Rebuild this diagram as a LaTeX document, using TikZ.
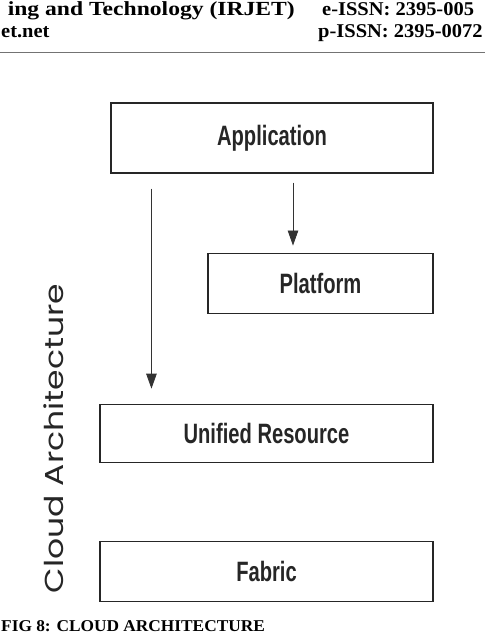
\documentclass[tikz,border=0pt]{standalone}
\usepackage{fontspec}
\setmainfont{Liberation Serif}
\newfontfamily\headfont[FakeStretch=1.05]{Liberation Serif}
\newfontfamily\jrnfont[FakeStretch=1.18]{Liberation Serif}
\newfontfamily\boxfont[FakeStretch=0.72]{Liberation Sans}
\newfontfamily\sidefont[FakeStretch=1.27]{Poppins}
\usetikzlibrary{arrows.meta,positioning}

\begin{document}
\begin{tikzpicture}[x=1pt, y=1pt, font=\boxfont\bfseries\fontsize{28}{32}\selectfont,
  box/.style={draw=black!85, line width=1.1pt, minimum height=#1, inner sep=0pt, text=black!85}, box/.default=60pt,
  arr/.style={-{Triangle[length=15pt,width=10.5pt]}, black!80, line width=0.8pt},
  head/.style={font=\headfont\bfseries\fontsize{19.5}{24}\selectfont, inner sep=0pt}]
\clip (0,0) rectangle (485,-635);
\useasboundingbox (0,0) rectangle (485,-635);
% page header
\node[head, font=\jrnfont\bfseries\fontsize{20}{24}\selectfont, anchor=base east] (jrn) at (295,-15) {ing and Technology (IRJET)};
\node[head, anchor=base west] (eissn) at (322,-15) {e-ISSN: 2395-005};
\node[head, anchor=base west] (web) at (1,-37) {et.net};
\node[head, anchor=base west] (pissn) at (318,-37) {p-ISSN: 2395-0072};
\draw[black!55, line width=1pt] (0,-52) -- (485,-52);
% layers
\node[box=70pt, minimum width=322pt] (app) at (272,-138) {Application};
\node[box, minimum width=225pt, below=79pt of app.south east, anchor=north east] (plat) {Platform};
\node[box=58pt, minimum width=333pt, below=90pt of plat.south east, anchor=north east] (res) {Unified Resource};
\node[box, minimum width=333pt, below=78pt of res] (fab) {Fabric};
\node[rotate=90, inner sep=0pt, text=black!85, font=\sidefont\fontsize{26}{30}\selectfont] (side) at (54,-438.5) {Cloud Architecture};
\draw[arr, shorten <=9pt, shorten >=7pt] ([xshift=21pt]app.south) -- ([xshift=-27.5pt]plat.north);
\draw[arr, shorten <=15pt, shorten >=15pt] ([xshift=41pt]app.south west) -- ([xshift=52pt]res.north west);
% caption
\node[head, font=\headfont\bfseries\fontsize{16.5}{19}\selectfont, anchor=base west] (cap) at (1,-631) {FIG 8: CLOUD ARCHITECTURE};
\end{tikzpicture}
\end{document}
